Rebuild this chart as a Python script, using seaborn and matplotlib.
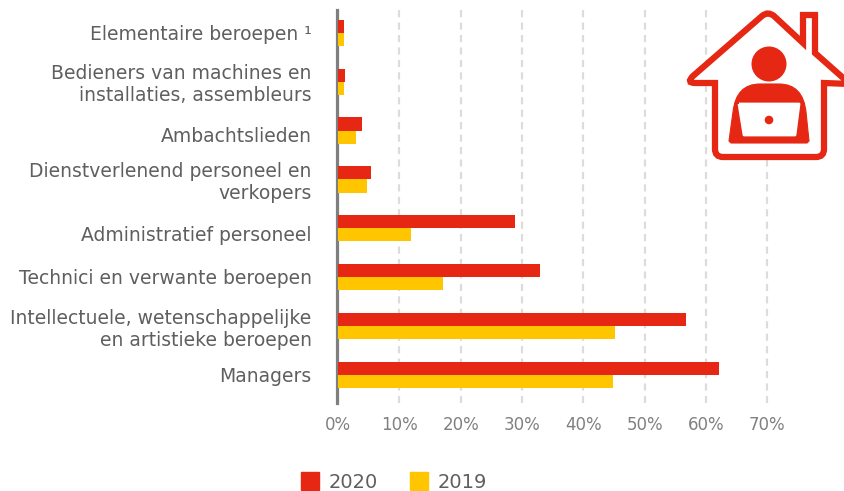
import matplotlib
matplotlib.use("Agg")
import matplotlib.pyplot as plt
import seaborn as sb
import pandas as pd
from matplotlib.patches import Circle, PathPatch, Patch
from matplotlib.path import Path

# Donnees
beroepen = [
    "Elementaire beroepen \u00b9",
    "Bedieners van machines en\ninstallaties, assembleurs",
    "Ambachtslieden",
    "Dienstverlenend personeel en\nverkopers",
    "Administratief personeel",
    "Technici en verwante beroepen",
    "Intellectuele, wetenschappelijke\nen artistieke beroepen",
    "Managers",
]
waarden_2020 = [1.0, 1.2, 3.9, 5.3, 28.8, 33.0, 56.8, 62.2]
waarden_2019 = [1.0, 0.9, 3.0, 4.8, 11.9, 17.2, 45.2, 44.8]
x_ticks = [0, 10, 20, 30, 40, 50, 60, 70]

ROOD = "#e52713"
GEEL = "#ffc600"
W, H = 844, 491

df = pd.DataFrame({
    "beroep": beroepen * 2,
    "waarde": waarden_2020 + waarden_2019,
    "jaar": ["2020"] * 8 + ["2019"] * 8,
})

sb.set_style("white")
plt.rcParams["font.family"] = ["DejaVu Sans"]

fig = plt.figure(figsize=(W / 100, H / 100), dpi=100)
ax = fig.add_axes([338 / W, 1 - 403 / H, (W - 338) / W, 393 / H])

sb.barplot(data=df, y="beroep", x="waarde", hue="jaar", hue_order=["2020", "2019"],
           palette=[ROOD, GEEL], width=0.54, gap=0, saturation=1, orient="h", ax=ax,
           zorder=3, linewidth=0, edgecolor="none")

ax.set_xlim(0, 82.5)
ax.set_ylim(7.58, -0.47)
ax.set_xlabel("")
ax.set_ylabel("")
ax.set_xticks(x_ticks)
ax.set_xticklabels([f"{t}%" for t in x_ticks])
# les etiquettes ne sont pas tout a fait centrees sur les barres dans l'original (decalage en pixels)
decalages = [0, -1, 4, 0, 5, -1, 0, 0]
ax.set_yticks([i + d / 48.9 for i, d in enumerate(decalages)])
ax.set_yticklabels(beroepen, linespacing=1.05)
ax.tick_params(axis="x", length=0, pad=9, labelsize=12, labelcolor="#808080")
ax.tick_params(axis="y", length=0, pad=18.5, labelsize=13.5, labelcolor="#5f5f5f")
ax.xaxis.grid(True, color="#dcdcdc", linestyle=(0, (3.2, 2.4)), linewidth=1.6, zorder=0)
ax.set_axisbelow(True)
for s in ["top", "right", "bottom"]:
    ax.spines[s].set_visible(False)
ax.spines["left"].set_color("#7f7f7f")
ax.spines["left"].set_linewidth(2.3)
ax.spines["left"].set_position(("outward", 0.5))

ax.get_legend().remove()
handles = [Patch(color=ROOD, label="2020"), Patch(color=GEEL, label="2019")]
fig.legend(handles=handles, loc="lower left", bbox_to_anchor=(283 / W, -0.037), ncol=2, frameon=False,
           fontsize=14, labelcolor="#5f5f5f", handlelength=0.93, handleheight=1.0,
           handletextpad=0.5, columnspacing=1.65)

# Icone maison, en pixels de la figure
icone = fig.add_axes([0, 0, 1, 1], facecolor="none")
icone.set_xlim(0, W)
icone.set_ylim(H, 0)
icone.axis("off")

M, L, C, Z = Path.MOVETO, Path.LINETO, Path.CURVE3, Path.CLOSEPOLY
maison = [((715, 83), M), ((695, 83), L), ((686, 83), C), ((693, 76), C), ((762, 16), L),
          ((768, 11), C), ((774, 16), C),
          ((803, 43), L), ((803, 15), L), ((815, 15), L), ((815, 53), L), ((850, 84), L),
          ((824, 83), L), ((824, 149), L), ((824, 157), C), ((816, 157), C),
          ((723, 157), L), ((715, 157), C), ((715, 149), C), ((715, 83), Z)]
sommets, codes = zip(*maison)
icone.add_patch(PathPatch(Path(sommets, codes), facecolor="white", edgecolor=ROOD,
                          linewidth=4.5, joinstyle="miter"))
icone.add_patch(Circle((769, 64), 17.5, color=ROOD, lw=0))
corps = [((731, 143), M), ((729, 141), L), ((733, 112), L), ((736, 84), C), ((760, 84), C),
         ((779, 84), L), ((803, 84), C), ((806, 112), C), ((809, 141), L), ((807, 143), L), ((731, 143), L)]
sommets, codes = zip(*corps)
icone.add_patch(PathPatch(Path(sommets, codes), facecolor=ROOD, edgecolor=ROOD, linewidth=0.8, joinstyle="round"))
ecran = [((739, 104), M), ((799, 104), L), ((795, 135), L), ((744, 135), L), ((739, 104), L)]
sommets, codes = zip(*ecran)
icone.add_patch(PathPatch(Path(sommets, codes), facecolor="white", edgecolor="white", linewidth=2, joinstyle="round"))
icone.add_patch(Circle((769, 120), 4.3, color=ROOD, lw=0))

fig.savefig("out.png", dpi=100)
